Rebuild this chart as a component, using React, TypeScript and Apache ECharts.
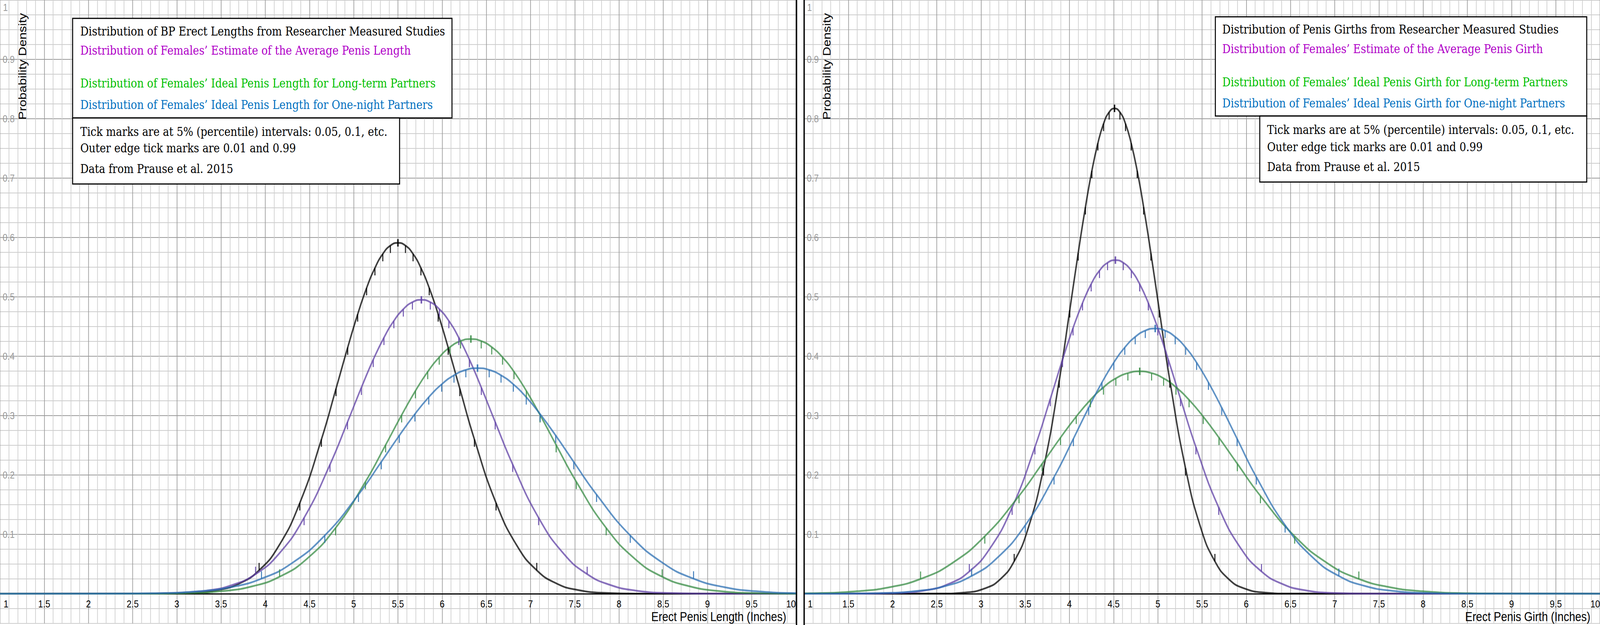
import React, { useEffect, useRef } from 'react';
import * as echarts from 'echarts';

// Percentile carried by each sample point (null = plain curve point, no tick mark)
const PERCENTILES: (number | null)[] = [
  null, null, null, null, null, 0.01, null, 0.05, 0.1, 0.15, 0.2, 0.25, 0.3, 0.35, 0.4, 0.45,
  0.5, 0.55, 0.6, 0.65, 0.7, 0.75, 0.8, 0.85, 0.9, 0.95, null, 0.99, null, null, null, null, null,
];

// ---- Left panel: erect length (inches) ----
const lenBlackX = [0, 2.800, 3.138, 3.475, 3.711, 3.930, 4.150, 4.390, 4.635, 4.800, 4.932, 5.045, 5.146, 5.240, 5.329, 5.415, 5.500, 5.585, 5.671, 5.760, 5.854, 5.955, 6.068, 6.200, 6.365, 6.610, 6.850, 7.070, 7.289, 7.525, 7.863, 8.200, 11];
const lenBlackY = [0, 0.0002, 0.0013, 0.0066, 0.0176, 0.0395, 0.0800, 0.1528, 0.2600, 0.3454, 0.4148, 0.4708, 0.5151, 0.5487, 0.5724, 0.5864, 0.5910, 0.5864, 0.5724, 0.5487, 0.5151, 0.4708, 0.4148, 0.3454, 0.2600, 0.1528, 0.0800, 0.0395, 0.0176, 0.0066, 0.0013, 0.0002, 0];

const lenPurpleX = [0, 2.541, 2.944, 3.347, 3.629, 3.890, 4.153, 4.439, 4.732, 4.930, 5.087, 5.221, 5.342, 5.454, 5.561, 5.664, 5.765, 5.866, 5.969, 6.076, 6.188, 6.309, 6.443, 6.600, 6.798, 7.091, 7.377, 7.640, 7.901, 8.183, 8.586, 8.989, 11];
const lenPurpleY = [0, 0.0002, 0.0011, 0.0055, 0.0148, 0.0331, 0.0670, 0.1280, 0.2177, 0.2893, 0.3473, 0.3943, 0.4314, 0.4596, 0.4793, 0.4911, 0.4950, 0.4911, 0.4793, 0.4596, 0.4314, 0.3943, 0.3473, 0.2893, 0.2177, 0.1280, 0.0670, 0.0331, 0.0148, 0.0055, 0.0011, 0.0002, 0];

const lenGreenX = [0, 2.605, 3.070, 3.535, 3.861, 4.162, 4.465, 4.795, 5.133, 5.361, 5.542, 5.698, 5.837, 5.967, 6.089, 6.208, 6.325, 6.442, 6.561, 6.683, 6.813, 6.952, 7.108, 7.289, 7.517, 7.855, 8.185, 8.488, 8.790, 9.115, 9.580, 10.045, 11];
const lenGreenY = [0, 0.0001, 0.0009, 0.0048, 0.0128, 0.0287, 0.0581, 0.1109, 0.1887, 0.2507, 0.3010, 0.3417, 0.3739, 0.3983, 0.4154, 0.4256, 0.4290, 0.4256, 0.4154, 0.3983, 0.3739, 0.3417, 0.3010, 0.2507, 0.1887, 0.1109, 0.0581, 0.0287, 0.0128, 0.0048, 0.0009, 0.0001, 0];

const lenBlueX = [0, 2.200, 2.725, 3.250, 3.618, 3.957, 4.300, 4.673, 5.054, 5.312, 5.516, 5.692, 5.849, 5.995, 6.134, 6.268, 6.400, 6.532, 6.666, 6.805, 6.951, 7.108, 7.284, 7.488, 7.746, 8.127, 8.500, 8.843, 9.183, 9.550, 10.075, 10.600, 11];
const lenBlueY = [0, 0.0001, 0.0008, 0.0042, 0.0113, 0.0254, 0.0514, 0.0982, 0.1671, 0.2221, 0.2666, 0.3026, 0.3311, 0.3528, 0.3680, 0.3770, 0.3800, 0.3770, 0.3680, 0.3528, 0.3311, 0.3026, 0.2666, 0.2221, 0.1671, 0.0982, 0.0514, 0.0254, 0.0113, 0.0042, 0.0008, 0.0001, 0];

// ---- Right panel: girth (inches) ----
const girBlackX = [0, 2.558, 2.802, 3.046, 3.217, 3.375, 3.534, 3.707, 3.885, 4.004, 4.099, 4.181, 4.254, 4.322, 4.386, 4.449, 4.510, 4.571, 4.634, 4.698, 4.766, 4.839, 4.921, 5.016, 5.135, 5.313, 5.486, 5.645, 5.803, 5.974, 6.218, 6.462, 11];
const girBlackY = [0, 0.0003, 0.0018, 0.0091, 0.0244, 0.0546, 0.1106, 0.2114, 0.3596, 0.4778, 0.5737, 0.6512, 0.7125, 0.7590, 0.7917, 0.8111, 0.8175, 0.8111, 0.7917, 0.7590, 0.7125, 0.6512, 0.5737, 0.4778, 0.3596, 0.2114, 0.1106, 0.0546, 0.0244, 0.0091, 0.0018, 0.0003, 0];

const girPurpleX = [0, 1.680, 2.035, 2.390, 2.639, 2.868, 3.100, 3.352, 3.610, 3.784, 3.922, 4.041, 4.148, 4.246, 4.340, 4.431, 4.520, 4.609, 4.700, 4.794, 4.892, 4.999, 5.118, 5.256, 5.430, 5.688, 5.940, 6.172, 6.402, 6.650, 7.005, 7.360, 11];
const girPurpleY = [0, 0.0002, 0.0012, 0.0062, 0.0168, 0.0375, 0.0760, 0.1453, 0.2472, 0.3284, 0.3943, 0.4476, 0.4897, 0.5217, 0.5442, 0.5575, 0.5619, 0.5575, 0.5442, 0.5217, 0.4897, 0.4476, 0.3943, 0.3284, 0.2472, 0.1453, 0.0760, 0.0375, 0.0168, 0.0062, 0.0012, 0.0002, 0];

const girGreenX = [0, 0.535, 1.068, 1.600, 1.973, 2.317, 2.665, 3.043, 3.430, 3.691, 3.899, 4.077, 4.237, 4.385, 4.525, 4.661, 4.795, 4.929, 5.065, 5.205, 5.353, 5.513, 5.691, 5.899, 6.160, 6.547, 6.925, 7.273, 7.617, 7.990, 8.523, 9.055, 11];
const girGreenY = [0, 0.0001, 0.0008, 0.0042, 0.0112, 0.0250, 0.0507, 0.0969, 0.1648, 0.2189, 0.2629, 0.2984, 0.3265, 0.3478, 0.3628, 0.3716, 0.3746, 0.3716, 0.3628, 0.3478, 0.3265, 0.2984, 0.2629, 0.2189, 0.1648, 0.0969, 0.0507, 0.0250, 0.0112, 0.0042, 0.0008, 0.0001, 0];

const girBlueX = [0, 1.398, 1.845, 2.291, 2.604, 2.893, 3.184, 3.501, 3.826, 4.045, 4.218, 4.368, 4.502, 4.626, 4.744, 4.858, 4.970, 5.082, 5.196, 5.314, 5.438, 5.572, 5.722, 5.896, 6.114, 6.439, 6.756, 7.047, 7.336, 7.649, 8.096, 8.542, 11];
const girBlueY = [0, 0.0002, 0.0010, 0.0050, 0.0133, 0.0299, 0.0605, 0.1155, 0.1965, 0.2611, 0.3135, 0.3559, 0.3894, 0.4148, 0.4326, 0.4432, 0.4467, 0.4432, 0.4326, 0.4148, 0.3894, 0.3559, 0.3135, 0.2611, 0.1965, 0.1155, 0.0605, 0.0299, 0.0133, 0.0050, 0.0010, 0.0002, 0];

// ---- Texts ----
const lengthLegend = [
  'Distribution of BP Erect Lengths from Researcher Measured Studies',
  'Distribution of Females\u2019 Estimate of the Average Penis Length',
  'Distribution of Females\u2019 Ideal Penis Length for Long-term Partners',
  'Distribution of Females\u2019 Ideal Penis Length for One-night Partners',
];
const girthLegend = [
  'Distribution of Penis Girths from Researcher Measured Studies',
  'Distribution of Females\u2019 Estimate of the Average Penis Girth',
  'Distribution of Females\u2019 Ideal Penis Girth for Long-term Partners',
  'Distribution of Females\u2019 Ideal Penis Girth for One-night Partners',
];
const notes = [
  'Tick marks are at 5% (percentile) intervals: 0.05, 0.1, etc.',
  'Outer edge tick marks are 0.01 and 0.99',
  'Data from Prause et al. 2015',
];
const xTitles = ['Erect Penis Length (Inches)', 'Erect Penis Girth (Inches)'];
const yTitle = 'Probability Density';

const CURVE_COLORS = ['#000000', '#6042a6', '#388c46', '#2d70b3'];
const TEXT_COLORS = ['#000000', '#b000c8', '#00c000', '#0070c0'];

const SANS = '"Liberation Sans", Arial, sans-serif';
const SERIF = '"DejaVu Serif", "Liberation Serif", serif';
const MAJOR = '#9a9a9a';
const MINOR = '#cdcdcd';

const FULL_W = 4825;
const FULL_H = 1600;
const PANEL_W = 2400;
const RIGHT_X = 2425;
const PLOT_H = 1520; // y from 0 to 1
const BAND_H = 76; // y from -0.05 to 0 below the x axis

function makeXAxis(gridIndex: number, withLabels: boolean) {
  return {
    type: 'value', gridIndex, min: 1, max: 10, interval: 0.5,
    axisLine: { show: withLabels, onZero: false, lineStyle: { color: '#000', width: 3 } },
    axisTick: { show: false },
    axisLabel: {
      show: withLabels, color: '#000', fontSize: 26, fontFamily: SANS, margin: 13,
      showMinLabel: true, showMaxLabel: true, alignMinLabel: 'left', alignMaxLabel: 'right',
      formatter: (v: number) => {
        const s = String(Math.round(v * 10) / 10);
        return Math.abs(v - 1) < 1e-9 ? '{first|' + s + '}' : s;
      },
      rich: { first: { padding: [0, 0, 0, 11], fontSize: 26, fontFamily: SANS, color: '#000' } },
    },
    splitLine: { show: true, lineStyle: { color: MAJOR, width: 2 } },
    minorTick: { show: true, splitNumber: 5, length: 0, lineStyle: { width: 0 } },
    minorSplitLine: { show: true, lineStyle: { color: MINOR, width: 2 } },
  };
}

function makeYAxis(gridIndex: number) {
  return {
    type: 'value', gridIndex, min: 0, max: 1, interval: 0.1,
    axisLine: { show: false }, axisTick: { show: false },
    axisLabel: {
      show: true, inside: true, margin: 8, color: '#999', fontSize: 26, fontFamily: SANS,
      formatter: (v: number) => (v > 0.05 && v < 0.95 ? String(Math.round(v * 10) / 10) : ''),
    },
    splitLine: { show: true, lineStyle: { color: MAJOR, width: 2 } },
    minorTick: { show: true, splitNumber: 4, length: 0, lineStyle: { width: 0 } },
    minorSplitLine: { show: true, lineStyle: { color: MINOR, width: 2 } },
  };
}

function makeBandYAxis(gridIndex: number) {
  return {
    type: 'value', gridIndex, min: -0.05, max: 0, interval: 0.025,
    axisLine: { show: false }, axisTick: { show: false }, axisLabel: { show: false },
    splitLine: { show: true, lineStyle: { color: MINOR, width: 2 } },
  };
}

function curve(xs: number[], ys: number[], color: string, idx: number) {
  return {
    type: 'line', xAxisIndex: idx, yAxisIndex: idx, silent: true,
    data: xs.map((x, i) => [x, ys[i]]),
    smooth: true, showSymbol: false, symbol: 'none', z: 3,
    lineStyle: { color, width: 4.5, opacity: 0.75 },
  };
}

function ticks(xs: number[], ys: number[], color: string, idx: number) {
  const data = xs.map((x, i) => [x, ys[i], PERCENTILES[i]]).filter((d) => d[2] !== null);
  return {
    type: 'custom', xAxisIndex: idx, yAxisIndex: idx, silent: true, z: 4,
    data,
    renderItem: (_p: any, api: any) => {
      const pt = api.coord([api.value(0), api.value(1)]);
      const p = api.value(2);
      let y1 = pt[1];
      let y2 = pt[1] + 19;
      let w = 3;
      if (Math.abs(p - 0.5) < 1e-6) { y1 = pt[1] - 9.5; y2 = pt[1] + 9.5; w = 4.5; }
      else if (Math.abs(p - 0.01) < 1e-6 || Math.abs(p - 0.99) < 1e-6) { y1 = pt[1] - 19; y2 = pt[1]; }
      return {
        type: 'line',
        shape: { x1: pt[0], y1, x2: pt[0], y2 },
        style: { stroke: color, lineWidth: w, opacity: 0.9 },
      };
    },
  };
}

function text(x: number, y: number, t: string, fill: string, size: number, font: string, align = 'left', extra: any = {}) {
  return {
    type: 'text', x, y, z: 101, silent: true, ...extra,
    style: { text: t, fill, fontSize: size, fontFamily: font, align, verticalAlign: 'middle' },
  };
}

function box(x: number, y: number, w: number, h: number) {
  return {
    type: 'rect', z: 100, silent: true,
    shape: { x, y, width: w, height: h },
    style: { fill: '#fff', stroke: '#000', lineWidth: 3 },
  };
}

function buildOption() {
  const lenSets = [[lenBlackX, lenBlackY], [lenPurpleX, lenPurpleY], [lenGreenX, lenGreenY], [lenBlueX, lenBlueY]];
  const girSets = [[girBlackX, girBlackY], [girPurpleX, girPurpleY], [girGreenX, girGreenY], [girBlueX, girBlueY]];
  const series: any[] = [];
  [lenSets, girSets].forEach((sets, idx) => {
    sets.forEach(([xs, ys], k) => series.push(curve(xs, ys, CURVE_COLORS[k], idx)));
    sets.forEach(([xs, ys], k) => series.push(ticks(xs, ys, CURVE_COLORS[k], idx)));
  });

  const graphics: any[] = [];
  // panel divider
  graphics.push({ type: 'rect', z: 90, silent: true, shape: { x: 2404, y: 0, width: 19, height: 1600 }, style: { fill: '#fff' } });
  graphics.push({ type: 'rect', z: 91, silent: true, shape: { x: 2400, y: 0, width: 4, height: 1600 }, style: { fill: '#000' } });
  graphics.push({ type: 'rect', z: 91, silent: true, shape: { x: 2423, y: 0, width: 4, height: 1600 }, style: { fill: '#000' } });

  const FS = 31.5;
  // Left boxes
  graphics.push(box(219, 47, 1144, 255));
  graphics.push(box(219, 302, 986, 169));
  [80, 129, 213, 268].forEach((y, i) => graphics.push(text(242, y, lengthLegend[i], TEXT_COLORS[i], FS, SERIF)));
  [337, 379, 432].forEach((y, i) => graphics.push(text(242, y, notes[i], '#000', FS, SERIF)));
  // Right boxes
  graphics.push(box(3665, 43, 1120, 254));
  graphics.push(box(3799, 297, 986, 169));
  [75, 125, 210, 264].forEach((y, i) => graphics.push(text(3686, y, girthLegend[i], TEXT_COLORS[i], FS, SERIF)));
  [332, 376, 427].forEach((y, i) => graphics.push(text(3821, y, notes[i], '#000', FS, SERIF)));

  // Axis titles and top "1" labels
  [0, RIGHT_X].forEach((ox, i) => {
    graphics.push(text(ox + 67, 170, yTitle, '#000', 33, SANS, 'center', { rotation: Math.PI / 2 }));
    graphics.push(text(ox + 2371, 1578, xTitles[i], '#000', 33, SANS, 'right'));
    graphics.push(text(ox + 9, 19, '1', '#999', 26, SANS));
  });

  const gridBase = { containLabel: false, outerBoundsMode: 'none' };
  return {
    animation: false,
    backgroundColor: '#fff',
    grid: [
      { ...gridBase, left: 0, top: 0, width: PANEL_W, height: PLOT_H },
      { ...gridBase, left: RIGHT_X, top: 0, width: PANEL_W, height: PLOT_H },
      { ...gridBase, left: 0, top: PLOT_H, width: PANEL_W, height: BAND_H },
      { ...gridBase, left: RIGHT_X, top: PLOT_H, width: PANEL_W, height: BAND_H },
    ],
    xAxis: [makeXAxis(0, true), makeXAxis(1, true), makeXAxis(2, false), makeXAxis(3, false)],
    yAxis: [makeYAxis(0), makeYAxis(1), makeBandYAxis(2), makeBandYAxis(3)],
    series,
    graphic: graphics,
  };
}

export default function App() {
  const ref = useRef<HTMLDivElement>(null);
  // The browser viewport may be narrower than the 4825 px design; fit the whole chart into it.
  const vw = typeof window !== 'undefined' && window.innerWidth ? window.innerWidth : FULL_W;
  const vh = typeof window !== 'undefined' && window.innerHeight ? window.innerHeight : FULL_H;
  const sx = Math.min(1, vw / FULL_W);
  const sy = Math.min(1, vh / FULL_H);
  useEffect(() => {
    document.body.style.margin = '0';
    document.body.style.overflow = 'hidden';
    const chart = echarts.init(ref.current as HTMLDivElement, undefined, { renderer: 'svg' });
    chart.setOption(buildOption() as any);
    return () => chart.dispose();
  }, []);
  return (
    <div
      ref={ref}
      style={{
        position: 'absolute', left: 0, top: 0, width: FULL_W, height: FULL_H,
        transform: `scale(${sx}, ${sy})`, transformOrigin: '0 0',
      }}
    />
  );
}
